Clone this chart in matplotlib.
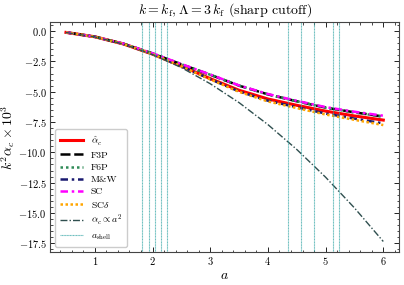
import matplotlib
matplotlib.use("Agg")
import matplotlib.pyplot as plt
from matplotlib.ticker import AutoMinorLocator, MultipleLocator

plt.rcParams.update({
    "font.family": "serif",
    "font.serif": ["cmr10", "DejaVu Serif"],
    "mathtext.fontset": "cm",
    "axes.formatter.use_mathtext": True,
    "axes.unicode_minus": True,
})

a = [0.5, 1.0, 1.5, 2.0, 2.5, 3.0, 3.5, 4.0, 4.5, 5.0, 5.5, 6.0]
alpha_hat = [-0.11, -0.47, -1.07, -1.90, -2.88, -3.92, -4.88, -5.60, -6.12, -6.60, -7.00, -7.34]
f3p = [-0.11, -0.47, -1.05, -1.84, -2.74, -3.60, -4.50, -5.22, -5.79, -6.31, -6.70, -7.05]
f6p = [-0.11, -0.47, -1.05, -1.84, -2.74, -3.60, -4.50, -5.22, -5.79, -6.32, -6.71, -7.06]
mw = [-0.11, -0.47, -1.07, -1.90, -2.90, -3.96, -4.98, -5.74, -6.28, -6.80, -7.22, -7.61]
sc = [-0.11, -0.47, -1.04, -1.83, -2.72, -3.58, -4.48, -5.19, -5.75, -6.27, -6.65, -6.98]
scd = [-0.11, -0.47, -1.07, -1.90, -2.91, -3.98, -5.01, -5.80, -6.35, -6.88, -7.32, -7.75]
quad = [-0.12, -0.48, -1.08, -1.93, -3.01, -4.34, -5.90, -7.71, -9.76, -12.05, -14.58, -17.35]
a_shell = [1.82, 1.94, 2.04, 2.15, 2.25, 4.35, 4.57, 4.80, 5.12, 5.24]

fig = plt.figure(figsize=(4.04, 2.85), dpi=100)
ax = fig.add_axes([0.124, 0.116, 0.864, 0.807])

ax.plot(a, alpha_hat, color="red", lw=2.2, ls="-", label=r"$\hat{\alpha}_c$")
ax.plot(a, f3p, color="black", lw=1.8, ls=(0, (4, 1.5)), label="F3P")
ax.plot(a, f6p, color="seagreen", lw=1.8, ls=(0, (1, 1.2)), label="F6P")
ax.plot(a, mw, color="midnightblue", lw=1.8, ls=(0, (3, 1.5, 1, 1.5)), label="M&W")
ax.plot(a, sc, color="magenta", lw=1.8, ls=(0, (3, 1.5, 1, 1.5)), label="SC")
ax.plot(a, scd, color="orange", lw=1.8, ls=(0, (1, 1)), label=r"SC$\delta$")
ax.plot(a, quad, color="darkslategray", lw=1.0, ls=(0, (5, 1.5, 1, 1.5)), label=r"$\alpha_c\propto a^2$")
for i, xs in enumerate(a_shell):
    ax.axvline(xs, color="#3aa8a8", lw=0.8, ls=(0, (1, 0.4)), alpha=0.75,
               label=r"$a_\mathrm{shell}$" if i == 0 else None)

ax.set_xlabel(r"$a$", fontsize=10, labelpad=2)
ax.set_ylabel(r"$k^2\alpha_c\times 10^3$", fontsize=10, labelpad=1)
ax.set_title(r"$k = k_\mathrm{f}, \Lambda = 3\,k_\mathrm{f}$ (sharp cutoff)", fontsize=10)

ax.xaxis.set_major_locator(MultipleLocator(1))
ax.xaxis.set_minor_locator(AutoMinorLocator(5))
ax.yaxis.set_major_locator(MultipleLocator(2.5))
ax.yaxis.set_minor_locator(AutoMinorLocator(5))
ax.tick_params(which="both", direction="in", top=True, right=True, labelsize=7.5, pad=2.5)
ax.tick_params(which="major", length=3.5, width=0.6)
ax.tick_params(which="minor", length=1.8, width=0.5)
for s in ax.spines.values():
    s.set_linewidth(0.8)
    s.set_color("#444444")

ax.legend(loc="lower left", fontsize=7, frameon=True, fancybox=True,
          edgecolor="#cccccc", framealpha=1.0, handlelength=2.4,
          labelspacing=0.35, borderpad=0.5)

fig.savefig("out.png", dpi=100)
